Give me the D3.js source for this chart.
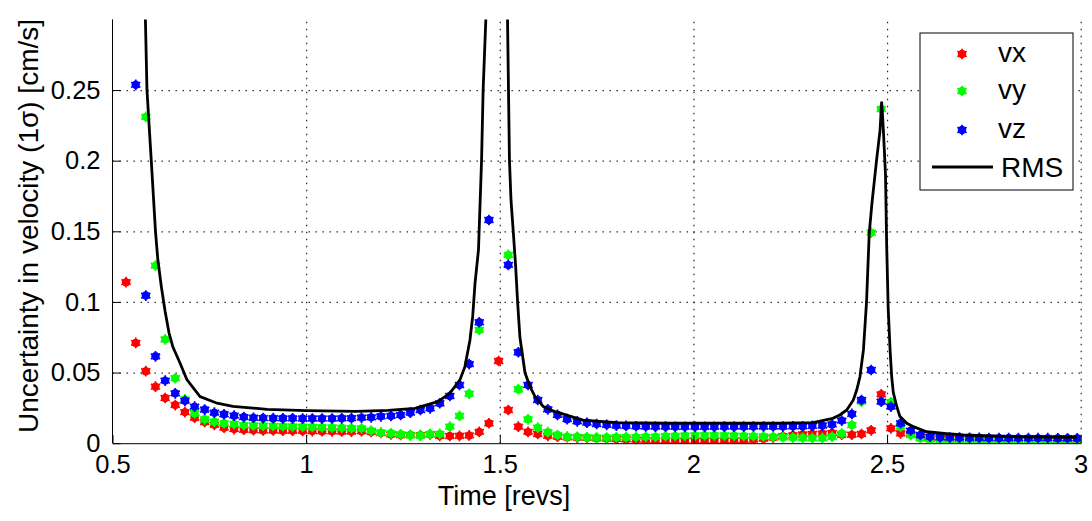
<!DOCTYPE html>
<html lang="en">
<head>
<meta charset="UTF-8">
<title>Velocity uncertainty</title>
<script src="https://d3js.org/d3.v7.min.js"></script>
<style>
  body { margin: 0; background: #fff; }
  svg text { font-family: "Liberation Sans", Arial, sans-serif; fill: #000; }
  .grid line { stroke: #222; stroke-width: 1.2; stroke-dasharray: 1.4 5.6; }
  .grid path { display: none; }
  .axis path, .axis line { stroke: #000; stroke-width: 1; }
</style>
</head>
<body>
<svg id="chart" width="1092" height="521"></svg>
<script>
// sample times [revs]
const time = [0.535, 0.560, 0.586, 0.611, 0.636, 0.662, 0.687, 0.712, 0.738, 0.763,
  0.788, 0.814, 0.839, 0.864, 0.889, 0.915, 0.940, 0.965, 0.991, 1.016,
  1.041, 1.067, 1.092, 1.117, 1.143, 1.168, 1.193, 1.219, 1.244, 1.269,
  1.295, 1.320, 1.345, 1.371, 1.396, 1.421, 1.447, 1.472, 1.497, 1.522,
  1.548, 1.573, 1.598, 1.624, 1.649, 1.674, 1.700, 1.725, 1.750, 1.776,
  1.801, 1.826, 1.852, 1.877, 1.902, 1.928, 1.953, 1.978, 2.004, 2.029,
  2.054, 2.080, 2.105, 2.130, 2.155, 2.181, 2.206, 2.231, 2.257, 2.282,
  2.307, 2.333, 2.358, 2.383, 2.409, 2.434, 2.459, 2.485, 2.510, 2.535,
  2.561, 2.586, 2.611, 2.637, 2.662, 2.687, 2.713, 2.738, 2.763, 2.789,
  2.814, 2.839, 2.865, 2.890, 2.915, 2.941, 2.966, 2.991];

// null = off the top of the plot
const vx = [0.114, 0.071, 0.051, 0.040, 0.032, 0.027, 0.022, 0.018, 0.015, 0.013,
  0.011, 0.010, 0.0095, 0.0092, 0.0090, 0.0090, 0.0088, 0.0088, 0.0087, 0.0086,
  0.0085, 0.0084, 0.0083, 0.0082, 0.0085, 0.0080, 0.0072, 0.0062, 0.0058, 0.0058,
  0.0057, 0.0062, 0.0052, 0.0051, 0.0052, 0.0055, 0.0080, 0.0141, 0.0582, 0.0235,
  0.0117, 0.0080, 0.0065, 0.0052, 0.0046, 0.0042, 0.0040, 0.0038, 0.0035, 0.0033,
  0.0030, 0.0028, 0.0025, 0.0023, 0.0020, 0.0018, 0.0017, 0.0016, 0.0016, 0.0016,
  0.0017, 0.0018, 0.0020, 0.0022, 0.0026, 0.0032, 0.0040, 0.0050, 0.0056, 0.0062,
  0.0066, 0.0068, 0.0072, 0.0060, 0.0060, 0.0065, 0.0091, 0.0346, 0.0105, 0.0070,
  0.0065, 0.0046, 0.0036, 0.0032, 0.0030, 0.0028, 0.0027, 0.0026, 0.0025, 0.0025,
  0.0024, 0.0024, 0.0023, 0.0023, 0.0023, 0.0022, 0.0022, 0.0022];

const vy = [null, null, 0.231, 0.1257, 0.0735, 0.046, 0.031, 0.0212, 0.0169, 0.0152,
  0.0141, 0.0136, 0.0128, 0.0126, 0.0124, 0.0122, 0.0120, 0.0118, 0.0117, 0.0115,
  0.0113, 0.0111, 0.0109, 0.0106, 0.0105, 0.0089, 0.0075, 0.0070, 0.0063, 0.0056,
  0.0054, 0.0065, 0.0066, 0.0117, 0.0193, 0.0350, 0.0802, null, null, 0.1333,
  0.0382, 0.0169, 0.0110, 0.0078, 0.0058, 0.0046, 0.0045, 0.0042, 0.0040, 0.0040,
  0.0042, 0.0042, 0.0043, 0.0045, 0.0046, 0.0050, 0.0052, 0.0054, 0.0055, 0.0056,
  0.0056, 0.0055, 0.0054, 0.0052, 0.0050, 0.0048, 0.0045, 0.0042, 0.0040, 0.0038,
  0.0036, 0.0036, 0.0045, 0.0068, 0.0129, 0.0294, 0.149, 0.2365, 0.0290, 0.0117,
  0.0058, 0.0035, 0.0025, 0.0021, 0.0019, 0.0018, 0.0018, 0.0017, 0.0017, 0.0017,
  0.0016, 0.0016, 0.0016, 0.0016, 0.0015, 0.0015, 0.0015, 0.0015];

const vz = [null, 0.2537, 0.1045, 0.0615, 0.0443, 0.0353, 0.0300, 0.0259, 0.0238, 0.0216,
  0.0205, 0.0195, 0.0185, 0.0180, 0.0178, 0.0177, 0.0176, 0.0176, 0.0175, 0.0175,
  0.0175, 0.0175, 0.0176, 0.0177, 0.0181, 0.0183, 0.0190, 0.0193, 0.0200, 0.0216,
  0.0235, 0.0247, 0.0283, 0.0334, 0.0412, 0.0560, 0.0856, 0.158, null, 0.1262,
  0.0644, 0.0412, 0.0306, 0.0240, 0.0200, 0.0170, 0.0155, 0.0145, 0.0136, 0.0130,
  0.0125, 0.0122, 0.0120, 0.0118, 0.0117, 0.0117, 0.0116, 0.0116, 0.0116, 0.0116,
  0.0116, 0.0117, 0.0117, 0.0117, 0.0118, 0.0118, 0.0118, 0.0118, 0.0119, 0.0120,
  0.0122, 0.0125, 0.0133, 0.0160, 0.0207, 0.0306, 0.0518, 0.0294, 0.0259, 0.0141,
  0.0089, 0.0058, 0.0046, 0.0042, 0.0040, 0.0039, 0.0038, 0.0038, 0.0037, 0.0037,
  0.0037, 0.0036, 0.0036, 0.0036, 0.0036, 0.0035, 0.0035, 0.0035];

// RMS curve (denser than the markers)
const rmsTime = [0.583, 0.585, 0.589, 0.600, 0.611, 0.617, 0.626, 0.636, 0.646, 0.656,
  0.674, 0.692, 0.726, 0.770, 0.811, 0.899, 1.000, 1.129, 1.211, 1.281,
  1.340, 1.371, 1.397, 1.410, 1.423, 1.430, 1.436, 1.445, 1.453, 1.457,
  1.464, 1.493, 1.520, 1.525, 1.529, 1.535, 1.541, 1.546, 1.552, 1.565,
  1.578, 1.591, 1.612, 1.643, 1.715, 1.803, 1.932, 2.069, 2.224, 2.309,
  2.360, 2.378, 2.396, 2.413, 2.422, 2.430, 2.439, 2.447, 2.454, 2.461,
  2.473, 2.482, 2.486, 2.490, 2.496, 2.499, 2.503, 2.508, 2.512, 2.516,
  2.525, 2.533, 2.551, 2.568, 2.602, 2.654, 2.697, 2.825, 2.990];
const rmsValue = [0.35, 0.30, 0.25, 0.2006, 0.150, 0.130, 0.111, 0.093, 0.078, 0.068,
  0.057, 0.045, 0.033, 0.0283, 0.026, 0.024, 0.023, 0.0225, 0.0233, 0.0247,
  0.0294, 0.0353, 0.0448, 0.0542, 0.0731, 0.0896, 0.113, 0.1368, 0.2006, 0.25,
  0.30, 0.60, 0.30, 0.20, 0.172, 0.149, 0.125, 0.100, 0.075, 0.050,
  0.040, 0.033, 0.026, 0.0223, 0.0164, 0.0145, 0.0142, 0.0142, 0.0142, 0.0145,
  0.0176, 0.020, 0.0235, 0.0306, 0.038, 0.047, 0.066, 0.100, 0.1487, 0.170,
  0.2006, 0.2218, 0.2419, 0.2242, 0.190, 0.140, 0.095, 0.065, 0.047, 0.036,
  0.026, 0.019, 0.0141, 0.0117, 0.0081, 0.0068, 0.0058, 0.0046, 0.0042];

const xTicks = [0.5, 1, 1.5, 2, 2.5, 3];
const yTicks = [0, 0.05, 0.1, 0.15, 0.2, 0.25];

const seriesNames = ["vx", "vy", "vz"];
const seriesColors = ["#ff0000", "#00ff00", "#0000ff"];
const seriesValues = [vx, vy, vz];

const svg = d3.select("#chart");
const margin = { top: 19.4, right: 11.3, bottom: 77.8, left: 112.5 };
const width = 1092 - margin.left - margin.right;
const height = 521 - margin.top - margin.bottom;

const g = svg.append("g").attr("transform", `translate(${margin.left},${margin.top})`);

const x = d3.scaleLinear().domain([0.5, 3]).range([0, width]);
const y = d3.scaleLinear().domain([0, 0.3]).range([height, 0]);

// grid
g.append("g").attr("class", "grid")
  .attr("transform", `translate(0,${height})`)
  .call(d3.axisBottom(x).tickValues(xTicks.slice(1)).tickSize(-height).tickFormat(""));
g.append("g").attr("class", "grid")
  .call(d3.axisLeft(y).tickValues(yTicks.slice(1)).tickSize(-width).tickFormat(""));

g.append("defs").append("clipPath").attr("id", "clip")
  .append("rect").attr("width", width).attr("height", height);

const plot = g.append("g").attr("clip-path", "url(#clip)");

// markers: filled dot with an asterisk on top, like a thick '*'
const dotFill = d3.symbol().type(d3.symbolCircle).size(56);
const dotStar = d3.symbol().type(d3.symbolAsterisk || d3.symbolCross).size(80);

function drawMarker(sel, color) {
  sel.append("path").attr("d", dotFill()).attr("fill", color);
  sel.append("path").attr("d", dotStar()).attr("fill", "none")
    .attr("stroke", color).attr("stroke-width", 1.7);
}

seriesValues.forEach((vals, i) => {
  const pts = time.map((t, k) => ({ t: t, v: vals[k] })).filter(d => d.v !== null);
  plot.append("g").selectAll("g")
    .data(pts)
    .enter().append("g")
    .attr("transform", d => `translate(${x(d.t)},${y(d.v)})`)
    .each(function () { drawMarker(d3.select(this), seriesColors[i]); });
});

// RMS line
const line = d3.line().x(d => x(d[0])).y(d => y(d[1]));
plot.append("path")
  .datum(rmsTime.map((t, k) => [t, rmsValue[k]]))
  .attr("fill", "none")
  .attr("stroke", "#000")
  .attr("stroke-width", 2.8)
  .attr("d", line);

// axes
const xAxis = g.append("g").attr("class", "axis")
  .attr("transform", `translate(0,${height})`)
  .call(d3.axisBottom(x).tickValues(xTicks).tickSizeInner(-8).tickSizeOuter(0).tickPadding(12)
    .tickFormat(d3.format("")));
xAxis.selectAll("text").style("font-size", "25.5px");

const yAxis = g.append("g").attr("class", "axis")
  .call(d3.axisLeft(y).tickValues(yTicks).tickSizeInner(-8).tickSizeOuter(0).tickPadding(12)
    .tickFormat(d3.format("")));
yAxis.selectAll("text").style("font-size", "25.5px");
yAxis.select(".domain").attr("d", `M0,${height}V0`);

// axis titles
svg.append("text")
  .attr("x", 504).attr("y", 505)
  .attr("text-anchor", "middle")
  .style("font-size", "27px")
  .text("Time [revs]");

svg.append("text")
  .attr("transform", "translate(38,226) rotate(-90)")
  .attr("text-anchor", "middle")
  .style("font-size", "28px")
  .text("Uncertainty in velocity (1\u03c3) [cm/s]");

// legend
const legend = svg.append("g").attr("transform", "translate(920,33)");
legend.append("rect")
  .attr("width", 153).attr("height", 157)
  .attr("fill", "#fff").attr("stroke", "#000").attr("stroke-width", 1);

const legendRows = [21, 58, 97, 134];
seriesNames.forEach((name, i) => {
  const row = legend.append("g").attr("transform", `translate(0,${legendRows[i]})`);
  drawMarker(row.append("g").attr("transform", "translate(42,0)"), seriesColors[i]);
  row.append("text").attr("x", 78).attr("y", 0).attr("dy", "0.28em")
    .style("font-size", "28px").text(name);
});
const rmsRow = legend.append("g").attr("transform", `translate(0,${legendRows[3]})`);
rmsRow.append("line").attr("x1", 12).attr("x2", 73).attr("y1", 0).attr("y2", 0)
  .attr("stroke", "#000").attr("stroke-width", 2.8);
rmsRow.append("text").attr("x", 81).attr("y", 0).attr("dy", "0.36em")
  .style("font-size", "28px").text("RMS");
</script>
</body>
</html>
